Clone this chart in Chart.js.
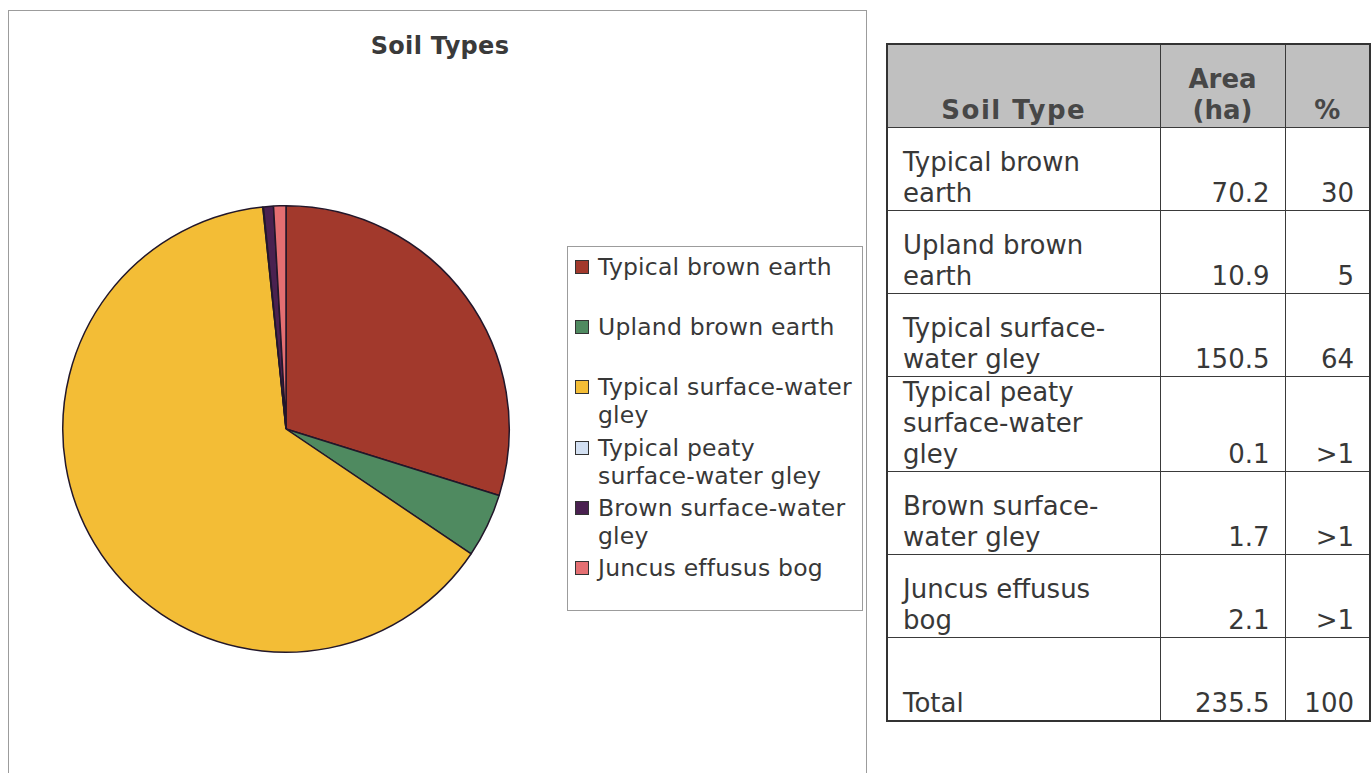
<!DOCTYPE html>
<html>
<head>
<meta charset="utf-8">
<title>Soil Types</title>
<script src="https://cdn.jsdelivr.net/npm/chart.js@4.4.1/dist/chart.umd.min.js"></script>
<style>
  html, body { margin: 0; padding: 0; background: #fff; }
  body { position: relative; width: 1372px; height: 773px; overflow: hidden; font-family: "DejaVu Sans", Verdana, sans-serif; color: #333; }
  #chartBox { position: absolute; left: 8px; top: 10px; width: 859px; height: 790px; border: 1px solid #9c9c9c; box-sizing: border-box; }
  #chartTitle { position: absolute; left: 10px; top: 32px; width: 860px; text-align: center; font-weight: bold; font-size: 24px; line-height: 28px; color: #3a3a3a; letter-spacing: 0.3px; }
  #pieWrap { position: absolute; left: 60px; top: 203px; width: 452px; height: 452px; }
  #legendBox { position: absolute; left: 567px; top: 246px; width: 296px; height: 365px; border: 1px solid #9c9c9c; box-sizing: border-box; padding-top: 6px; }
  .legend-item { position: relative; height: 60.2px; padding-left: 30px; font-size: 23.5px; line-height: 28px; color: #383838; width: 262px; letter-spacing: 0.2px; }
  .legend-item .swatch { position: absolute; left: 7px; top: 7px; width: 14px; height: 14px; border: 1px solid #333; box-sizing: border-box; }
  .legend-item .word { white-space: nowrap; }
  #soilTable { position: absolute; left: 886px; top: 43px; width: 483px; border-collapse: collapse; table-layout: fixed; border: 2px solid #333; font-size: 26px; line-height: 31px; color: #383838; }
  #soilTable th, #soilTable td { border: 1px solid #3a3a3a; vertical-align: bottom; padding: 0 0 1px 0; height: 81px; }
  #soilTable th { background: #c0c0c0; color: #474747; font-weight: bold; font-size: 26px; text-align: center; }
  #soilTable th.first { letter-spacing: 1.5px; padding-right: 20px; }
  #soilTable td.name { padding-left: 15px; padding-right: 22px; text-align: left; }
  #soilTable td.num { text-align: right; padding-right: 15px; }
</style>
</head>
<body>
<div id="chartBox"></div>
<div id="chartTitle">Soil Types</div>
<div id="pieWrap"><canvas id="soilChart"></canvas></div>
<div id="legendBox"></div>
<table id="soilTable">
  <colgroup><col style="width:273px"><col style="width:125px"><col style="width:85px"></colgroup>
  <thead><tr><th class="first">Soil Type</th><th>Area<br>(ha)</th><th>%</th></tr></thead>
  <tbody id="tableBody"></tbody>
</table>
<script>
// data
const soilTypes = [
  "Typical brown earth",
  "Upland brown earth",
  "Typical surface-water gley",
  "Typical peaty surface-water gley",
  "Brown surface-water gley",
  "Juncus effusus bog"
];
const areaHa = [70.2, 10.9, 150.5, 0.1, 1.7, 2.1];
const areaText = ["70.2", "10.9", "150.5", "0.1", "1.7", "2.1"];
const percentText = ["30", "5", "64", ">1", ">1", ">1"];
const totalArea = "235.5";
const totalPercent = "100";

const sliceColors = ["#a2392c", "#4f8a60", "#f3bd36", "#d3e0f2", "#4a2150", "#e46f72"];

// pie
const ctx = document.getElementById("soilChart");
const chart = new Chart(ctx, {
  type: "pie",
  data: {
    labels: soilTypes,
    datasets: [{
      data: areaHa,
      backgroundColor: sliceColors,
      borderColor: "#22172a",
      borderWidth: 1.5
    }]
  },
  options: {
    responsive: true,
    maintainAspectRatio: false,
    animation: false,
    layout: { padding: 2 },
    plugins: {
      legend: { display: false },
      title: { display: false },
      tooltip: { enabled: false }
    }
  }
});

// legend box (html, one slot per item like the original)
const legendBox = document.getElementById("legendBox");
soilTypes.forEach((label, i) => {
  const item = document.createElement("div");
  item.className = "legend-item";
  const sw = document.createElement("span");
  sw.className = "swatch";
  sw.style.background = sliceColors[i];
  item.appendChild(sw);
  // only break at spaces, not at hyphens
  label.split(" ").forEach((w, k) => {
    if (k > 0) item.appendChild(document.createTextNode(" "));
    const s = document.createElement("span");
    s.className = "word";
    s.textContent = w;
    item.appendChild(s);
  });
  legendBox.appendChild(item);
});

// table
const tbody = document.getElementById("tableBody");
soilTypes.forEach((label, i) => {
  const tr = document.createElement("tr");
  tr.innerHTML = `<td class="name"></td><td class="num">${areaText[i]}</td><td class="num">${percentText[i]}</td>`;
  tr.firstChild.textContent = label;
  tbody.appendChild(tr);
});
const totalRow = document.createElement("tr");
totalRow.innerHTML = `<td class="name">Total</td><td class="num">${totalArea}</td><td class="num">${totalPercent}</td>`;
tbody.appendChild(totalRow);
</script>
</body>
</html>
